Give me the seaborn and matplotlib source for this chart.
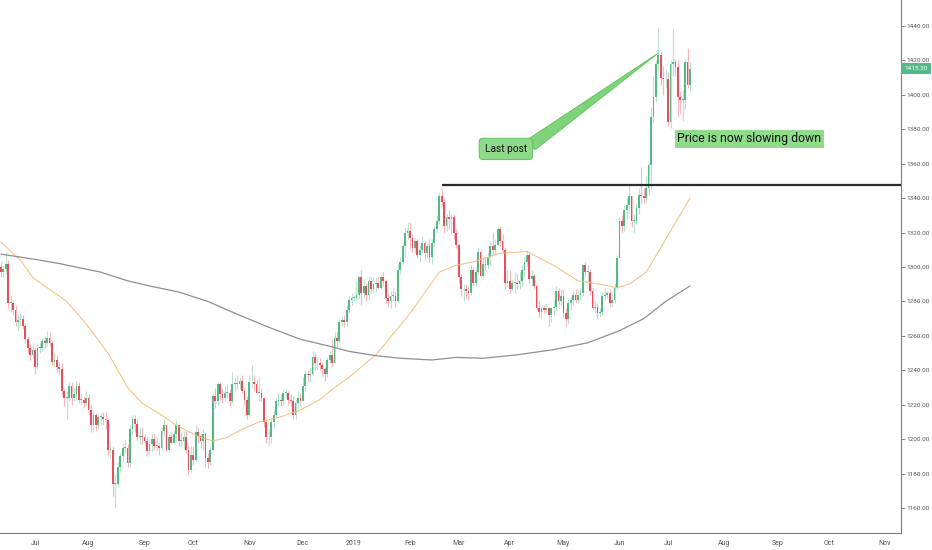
import numpy as np
import pandas as pd
import matplotlib
matplotlib.use("Agg")
import matplotlib.pyplot as plt
import seaborn as sns
from matplotlib.patches import Polygon

# ---------------- data ----------------
first_open = 1300.0
closes = [
    1297, 1299, 1302, 1279, 1279, 1275, 1268, 1269, 1270, 1266, 1258, 1253, 1249, 1252,
    1242, 1253, 1253, 1257, 1256, 1259, 1256, 1245, 1246, 1242, 1241, 1228, 1224, 1224, 1231, 1224, 1226, 1231, 1223, 1223, 1221, 1224,
    1217, 1208, 1214, 1208, 1213, 1213, 1212, 1211, 1194, 1194, 1174, 1174, 1184, 1190, 1195, 1195, 1186, 1206, 1212, 1209, 1201, 1202, 1201,
    1199, 1193, 1197, 1200, 1196, 1196, 1195, 1205, 1208, 1194, 1201, 1198, 1203, 1208, 1199, 1199, 1201, 1194, 1182, 1191,
    1188, 1204, 1202, 1199, 1203, 1189, 1187, 1194, 1225, 1222, 1232, 1226, 1224, 1227, 1227, 1222, 1232, 1232, 1232, 1234, 1228, 1223, 1214,
    1233, 1233, 1232, 1227, 1227, 1224, 1210, 1201, 1201, 1210, 1214, 1222, 1223, 1222, 1227, 1227, 1223, 1222, 1214, 1221, 1224, 1222,
    1231, 1238, 1237, 1238, 1248, 1244, 1244, 1243, 1241, 1238, 1246, 1249, 1244, 1259, 1257, 1268, 1269, 1268, 1275, 1281, 1282,
    1282, 1284, 1294, 1285, 1289, 1284, 1292, 1287, 1290, 1291, 1288, 1294, 1292, 1282, 1280, 1283, 1283, 1280, 1298, 1303, 1312, 1320, 1321,
    1317, 1311, 1315, 1307, 1310, 1314, 1308, 1312, 1306, 1314, 1322, 1327, 1341, 1338, 1324, 1329, 1328, 1329, 1320, 1313,
    1294, 1287, 1287, 1286, 1285, 1298, 1291, 1297, 1309, 1295, 1302, 1301, 1306, 1312, 1310, 1313, 1322, 1315, 1310, 1291, 1292,
    1287, 1291, 1291, 1290, 1292, 1298, 1303, 1307, 1293, 1295, 1289, 1276, 1274, 1276, 1275, 1276, 1272, 1276, 1277, 1286, 1280, 1283,
    1273, 1270, 1279, 1281, 1284, 1281, 1284, 1285, 1301, 1297, 1297, 1286, 1276, 1277, 1273, 1274, 1283, 1284, 1285, 1279, 1281, 1288, 1305,
    1327, 1324, 1333, 1336, 1341, 1327, 1327, 1334, 1342, 1341, 1340, 1346, 1359, 1387, 1399, 1418, 1423, 1410, 1409, 1409,
    1384, 1418, 1419, 1416, 1399, 1397, 1397, 1419, 1406, 1415.3,
]
highs = [
    1303, 1301, 1309, 1304, 1284, 1281, 1278, 1272, 1273, 1272, 1267, 1260, 1255, 1256,
    1253, 1255, 1256, 1259, 1260, 1263, 1262, 1257, 1250, 1249, 1245, 1244, 1229, 1228, 1233, 1233, 1230, 1234, 1233, 1227, 1225, 1228,
    1226, 1220, 1217, 1215, 1215, 1216, 1216, 1216, 1212, 1199, 1196, 1180, 1187, 1192, 1198, 1200, 1197, 1208, 1214, 1214, 1212, 1207, 1207,
    1203, 1201, 1200, 1203, 1203, 1201, 1198, 1207, 1212, 1208, 1203, 1204, 1205, 1211, 1208, 1204, 1205, 1205, 1196, 1196,
    1196, 1208, 1207, 1203, 1206, 1204, 1192, 1196, 1227, 1230, 1233, 1233, 1229, 1231, 1232, 1229, 1239, 1236, 1237, 1236, 1237, 1230, 1225,
    1237, 1243, 1237, 1235, 1236, 1230, 1224, 1211, 1206, 1212, 1217, 1224, 1227, 1226, 1229, 1229, 1228, 1226, 1225, 1224, 1228, 1227,
    1236, 1240, 1240, 1242, 1251, 1250, 1248, 1247, 1245, 1242, 1248, 1251, 1258, 1262, 1263, 1270, 1271, 1272, 1278, 1283, 1285,
    1284, 1292, 1295, 1298, 1293, 1291, 1295, 1294, 1294, 1294, 1295, 1296, 1297, 1293, 1285, 1286, 1288, 1286, 1302, 1306, 1314, 1322, 1326,
    1326, 1319, 1317, 1316, 1313, 1318, 1315, 1314, 1316, 1316, 1324, 1330, 1343, 1346, 1340, 1331, 1333, 1331, 1331, 1322,
    1314, 1296, 1290, 1290, 1289, 1301, 1300, 1300, 1311, 1310, 1305, 1306, 1308, 1315, 1320, 1316, 1324, 1324, 1319, 1311, 1298,
    1298, 1293, 1297, 1296, 1297, 1301, 1306, 1310, 1308, 1298, 1296, 1290, 1280, 1278, 1278, 1279, 1277, 1277, 1281, 1289, 1288, 1287,
    1287, 1276, 1282, 1283, 1286, 1287, 1287, 1288, 1302, 1303, 1301, 1299, 1288, 1280, 1279, 1276, 1286, 1288, 1286, 1287, 1286, 1291, 1307,
    1329, 1330, 1336, 1340, 1348, 1338, 1331, 1337, 1346, 1358, 1346, 1353, 1361, 1393, 1411, 1420, 1439, 1425, 1417, 1415,
    1413, 1420, 1438, 1421, 1420, 1402, 1403, 1421, 1427, 1419,
]
lows = [
    1294, 1294, 1296, 1276, 1274, 1272, 1266, 1263, 1266, 1264, 1256, 1250, 1246, 1247,
    1238, 1241, 1250, 1251, 1253, 1254, 1254, 1243, 1242, 1239, 1237, 1225, 1219, 1212, 1222, 1220, 1222, 1223, 1221, 1220, 1218, 1219,
    1214, 1204, 1205, 1205, 1206, 1208, 1208, 1206, 1190, 1189, 1167, 1160, 1172, 1181, 1187, 1192, 1184, 1184, 1203, 1204, 1199, 1197, 1197,
    1196, 1190, 1191, 1193, 1194, 1193, 1191, 1194, 1201, 1193, 1193, 1197, 1197, 1199, 1196, 1196, 1194, 1192, 1180, 1181,
    1185, 1187, 1198, 1195, 1194, 1184, 1183, 1185, 1193, 1218, 1220, 1223, 1221, 1222, 1224, 1219, 1221, 1228, 1229, 1229, 1227, 1220, 1212,
    1213, 1230, 1228, 1226, 1222, 1222, 1207, 1198, 1196, 1198, 1206, 1213, 1219, 1219, 1220, 1224, 1220, 1219, 1212, 1212, 1218, 1219,
    1222, 1228, 1234, 1233, 1237, 1241, 1240, 1240, 1237, 1234, 1236, 1244, 1242, 1244, 1254, 1256, 1266, 1265, 1266, 1273, 1278,
    1280, 1280, 1282, 1278, 1282, 1280, 1281, 1285, 1285, 1286, 1287, 1287, 1289, 1279, 1277, 1276, 1280, 1277, 1279, 1296, 1302, 1306, 1316,
    1311, 1309, 1308, 1305, 1303, 1308, 1304, 1305, 1303, 1302, 1312, 1320, 1325, 1335, 1320, 1321, 1322, 1320, 1316, 1311,
    1291, 1283, 1280, 1282, 1281, 1284, 1289, 1289, 1296, 1294, 1293, 1298, 1299, 1301, 1307, 1307, 1312, 1312, 1308, 1287, 1289,
    1285, 1286, 1285, 1287, 1287, 1289, 1294, 1300, 1291, 1289, 1287, 1275, 1271, 1270, 1273, 1273, 1266, 1268, 1272, 1275, 1278, 1278,
    1271, 1266, 1267, 1275, 1278, 1279, 1279, 1281, 1283, 1294, 1292, 1284, 1275, 1273, 1270, 1271, 1272, 1281, 1282, 1277, 1277, 1279, 1287,
    1305, 1320, 1321, 1328, 1331, 1323, 1320, 1325, 1331, 1337, 1337, 1338, 1342, 1345, 1384, 1396, 1413, 1406, 1400, 1404,
    1382, 1381, 1411, 1411, 1387, 1389, 1385, 1392, 1404, 1402,
]

ma50_dates = ["2018-06-12", "2018-06-22", "2018-06-29", "2018-07-10", "2018-07-19", "2018-07-31",
              "2018-08-13", "2018-08-23", "2018-08-31", "2018-09-13", "2018-09-20", "2018-10-04",
              "2018-10-11", "2018-10-19", "2018-10-26", "2018-11-07", "2018-11-20", "2018-11-30",
              "2018-12-12", "2018-12-20", "2018-12-28", "2019-01-14", "2019-02-01", "2019-02-19",
              "2019-02-28", "2019-03-11", "2019-03-26", "2019-04-10", "2019-04-25", "2019-05-09",
              "2019-05-22", "2019-05-31", "2019-06-07", "2019-06-18", "2019-06-28", "2019-07-12"]
ma50_values = [1314.5, 1304, 1294, 1287, 1280, 1267,
               1250, 1230, 1221, 1213, 1208, 1201,
               1199, 1201, 1205, 1210, 1213, 1217,
               1223, 1230, 1236, 1249, 1273, 1297,
               1301, 1303, 1308, 1309, 1301, 1292,
               1290, 1288, 1290, 1297, 1316, 1340]

ma200_dates = ["2018-06-12", "2018-07-04", "2018-07-16", "2018-08-08", "2018-08-23", "2018-09-05",
               "2018-09-21", "2018-10-09", "2018-10-26", "2018-11-13", "2018-11-30", "2018-12-18",
               "2018-12-28", "2019-01-14", "2019-01-28", "2019-02-14", "2019-02-28", "2019-03-15",
               "2019-04-04", "2019-04-25", "2019-05-15", "2019-06-03", "2019-06-17", "2019-06-28",
               "2019-07-12"]
ma200_values = [1307.5, 1304, 1302, 1297, 1292, 1289,
                1285.5, 1280, 1272, 1265, 1258, 1254,
                1251, 1248.5, 1247, 1246, 1247.5, 1247,
                1249, 1252, 1256, 1263, 1270, 1280,
                1289]

level_price = 1347.6
level_start = "2019-02-20"
last_price_text = "1415.30"
y_ticks = list(range(1160, 1441, 20))
note_last_post = "Last post"
note_slowing = "Price is now slowing down"

# ---------------- figure ----------------
sns.set_theme(style="white")
plt.rcParams["font.family"] = ["Roboto", "DejaVu Sans"]

dates = pd.bdate_range("2018-06-12", periods=len(closes))
axis_dates = pd.bdate_range("2018-06-12", "2019-11-29")
pos = pd.Series(np.arange(len(axis_dates), dtype=float), index=axis_dates)

fig = plt.figure(figsize=(9.32, 5.5), dpi=100)
fig.patch.set_facecolor("white")
ax = fig.add_axes([0, 17 / 550, 901 / 932, 533 / 550])
ax.set_facecolor("white")

up_col = "#53b987"
dn_col = "#eb4d5c"
x = pos[dates].values
c = np.array(closes, dtype=float)
o = np.array([first_open] + closes[:-1], dtype=float)
h = np.maximum(np.array(highs, dtype=float), np.maximum(o, c))
l = np.minimum(np.array(lows, dtype=float), np.minimum(o, c))
cols = np.where(c >= o, up_col, dn_col)

ax.vlines(x, l, h, colors=cols, linewidth=0.8, alpha=0.4, zorder=2)
ax.bar(x, np.maximum(np.abs(c - o), 0.5), bottom=np.minimum(o, c), width=0.72,
       color=cols, linewidth=0, zorder=3)

ma50_df = pd.DataFrame({"pos": pos[pd.to_datetime(ma50_dates)].values, "val": ma50_values})
ma200_df = pd.DataFrame({"pos": pos[pd.to_datetime(ma200_dates)].values, "val": ma200_values})
sns.lineplot(data=ma50_df, x="pos", y="val", ax=ax, color="#f7bd78", linewidth=0.7, zorder=4)
sns.lineplot(data=ma200_df, x="pos", y="val", ax=ax, color="#948c98", linewidth=0.9, zorder=4)

x_left, x_right = -0.374, 369.65
ax.hlines(level_price, pos[pd.Timestamp(level_start)], x_right, color="#2b2b2b",
          linewidth=1.6, zorder=5)

# annotations
tip_x = pos[pd.Timestamp("2019-06-25")]
wedge = Polygon([(213.0, 1371.0), (219.6, 1368.3), (tip_x, 1424.3)], closed=True,
                facecolor="#7fd37a", edgecolor="#5cc45a", linewidth=0.6, zorder=6)
ax.add_patch(wedge)
ax.text(207.4, 1368.6, note_last_post, fontsize=7.3, color="#111111", ha="center", va="center",
        zorder=7, bbox=dict(boxstyle="round,pad=0.55,rounding_size=0.35", fc="#8fd98a",
                            ec="#6cc46a", lw=0.8))
ax.text(277.8, 1374.4, note_slowing, fontsize=8.8, color="#111111", ha="left", va="center",
        zorder=7, bbox=dict(boxstyle="square,pad=0.18", fc="#8fdc8a", ec="none"))

ax.set_xlim(x_left, x_right)
ax.set_ylim(1145.5, 1455.1)
ax.set_xlabel("")
ax.set_ylabel("")

# x ticks at month starts
ms = axis_dates.to_series().groupby([axis_dates.year, axis_dates.month]).first()
ms = ms[ms > dates[0]]
ax.set_xticks(pos[pd.DatetimeIndex(ms.values)].values)
ax.set_xticklabels([d.strftime("%Y") if d.month == 1 else d.strftime("%b") for d in ms])

ax.yaxis.tick_right()
ax.set_yticks(y_ticks)
ax.set_yticklabels([f"{v:.2f}" for v in y_ticks])

ax.tick_params(axis="x", labelsize=5.0, colors="#777777", labelcolor="#555555",
               length=3, width=0.6, direction="out", pad=2)
ax.tick_params(axis="y", labelsize=4.6, colors="#777777", labelcolor="#555555",
               length=3, width=0.6, direction="out", pad=1.2)
for side in ["top", "left"]:
    ax.spines[side].set_visible(False)
for side in ["right", "bottom"]:
    ax.spines[side].set_visible(True)
    ax.spines[side].set_color("#7d7d7d")
    ax.spines[side].set_linewidth(0.8)
ax.grid(False)

ax.text(1.0035, closes[-1], last_price_text, transform=ax.get_yaxis_transform(), fontsize=4.6,
        color="white", ha="left", va="center", zorder=10, clip_on=False,
        bbox=dict(boxstyle="square,pad=0.5", fc=up_col, ec="none"))

fig.savefig("out.png", dpi=100, facecolor="white")
